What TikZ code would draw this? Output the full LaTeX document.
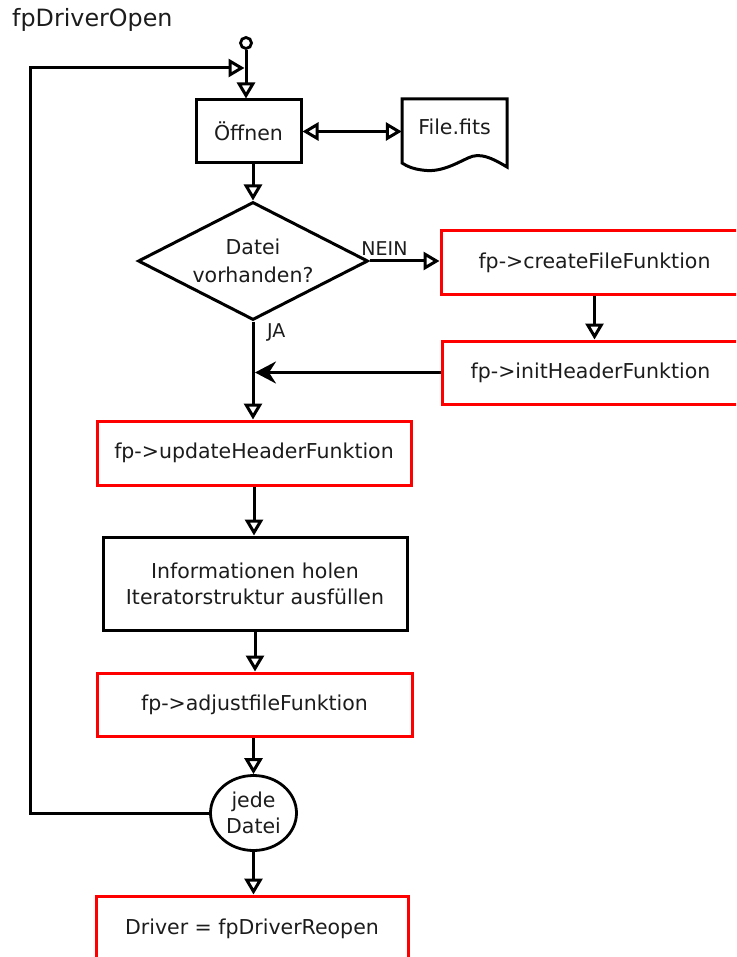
\documentclass[tikz,border=0pt]{standalone}
\usepackage{fontspec}
\setmainfont{DejaVu Sans}
\usetikzlibrary{arrows.meta,shapes.geometric,calc}
\definecolor{boxred}{RGB}{255,0,0}
\definecolor{ink}{RGB}{28,28,28}
\tikzset{openhead/.tip={Triangle[open,length=16pt,width=18pt,line width=3pt]}}
\begin{document}
\begin{tikzpicture}[x=1pt,y=-1pt,
  every node/.style={font=\fontsize{20.5}{26}\selectfont, text=ink},
  flow/.style={draw=black, line width=3pt, -openhead},
  plainbox/.style={draw, line width=3pt, rectangle, align=center, inner sep=0pt},
  redbox/.style={plainbox, draw=boxred},
  blackbox/.style={plainbox, draw=black},
  lbl/.style={font=\fontsize{19}{23}\selectfont, inner sep=0pt}]
\useasboundingbox (0,0) rectangle (736,957);
\clip (0,0) rectangle (736,957);

% title
\node[anchor=base west, inner sep=0pt, font=\fontsize{23.8}{28}\selectfont] (title) at (12,27) {fpDriverOpen};

% start point and first step
\node[circle, draw, line width=2.8pt, minimum size=11pt, inner sep=0pt] (start) at (246,43) {};
\node[blackbox, minimum width=105pt, minimum height=63pt] (open) at (248.5,131.5) {Öffnen};

% document symbol
\node[inner sep=0pt, minimum width=105pt, minimum height=40pt] (file) at (454.5,127) {File.fits};
\draw[line width=3pt, line join=miter]
  (402,163) -- (402,99) -- (507,99) -- (507,167)
  .. controls (492,158) and (480,152) .. (468,158)
  .. controls (455,164) and (440,173) .. (422,170)
  .. controls (414,169) and (408,167) .. (402,163) -- cycle;

% decision
\node[diamond, draw, line width=3pt, minimum width=230pt, minimum height=118pt,
      inner sep=0pt, aspect=2, align=center, font=\fontsize{20.5}{28}\selectfont] (dec) at (253,261) {Datei\\vorhanden?};
\node[lbl, anchor=base] (nein) at (384.5,256) {NEIN};
\node[lbl, anchor=base west] (ja) at (267,337) {JA};

% function calls
\node[redbox, minimum width=307pt, minimum height=63pt] (create) at (594.5,262.5) {fp->createFileFunktion};
\node[redbox, minimum width=297pt, minimum height=63pt] (init) at (590.5,372.5) {fp->initHeaderFunktion};
\node[redbox, minimum width=314pt, minimum height=64pt] (update) at (254,453) {fp->updateHeaderFunktion};
\node[blackbox, minimum width=304pt, minimum height=93pt] (info) at (255,583.5) {Informationen holen\\Iteratorstruktur ausfüllen};
\node[redbox, minimum width=315pt, minimum height=63pt] (adjust) at (254.5,704.5) {fp->adjustfileFunktion};
\node[ellipse, draw, line width=2.8pt, minimum width=86pt, minimum height=75pt,
      inner sep=0pt, align=center] (loop) at (253.5,813) {jede\\Datei};
\node[redbox, minimum width=312pt, minimum height=66pt] (driver) at (252,929) {Driver = fpDriverReopen};

% connectors
\coordinate (ltop) at (30,68);
\coordinate (lj) at (244.5,68);
\draw[flow] (start.south) -- (start.south |- open.north);
\draw[flow] (loop.west) -| (ltop) -- (lj);
\draw[line width=3pt, openhead-openhead]
  (open.east) -- (open.east -| file.west);
\draw[flow] (dec.north |- open.south) -- (dec.north);
\draw[flow] (dec.east) -- (dec.east -| create.west);
\draw[flow] (create.south) -- (create.south |- init.north);
\draw[line width=3pt, -{Stealth[length=21pt,width=22pt,inset=7pt]}, shorten >=2pt]
  (init.west) -- (init.west -| dec.south);
\draw[flow] (dec.south) -- (dec.south |- update.north);
\draw[flow] (update.south) -- (update.south |- info.north);
\draw[flow] (info.south) -- (info.south |- adjust.north);
\draw[flow] (adjust.south -| loop.north) -- (loop.north);
\draw[flow] (loop.south) -- (loop.south |- driver.north);
\end{tikzpicture}
\end{document}
